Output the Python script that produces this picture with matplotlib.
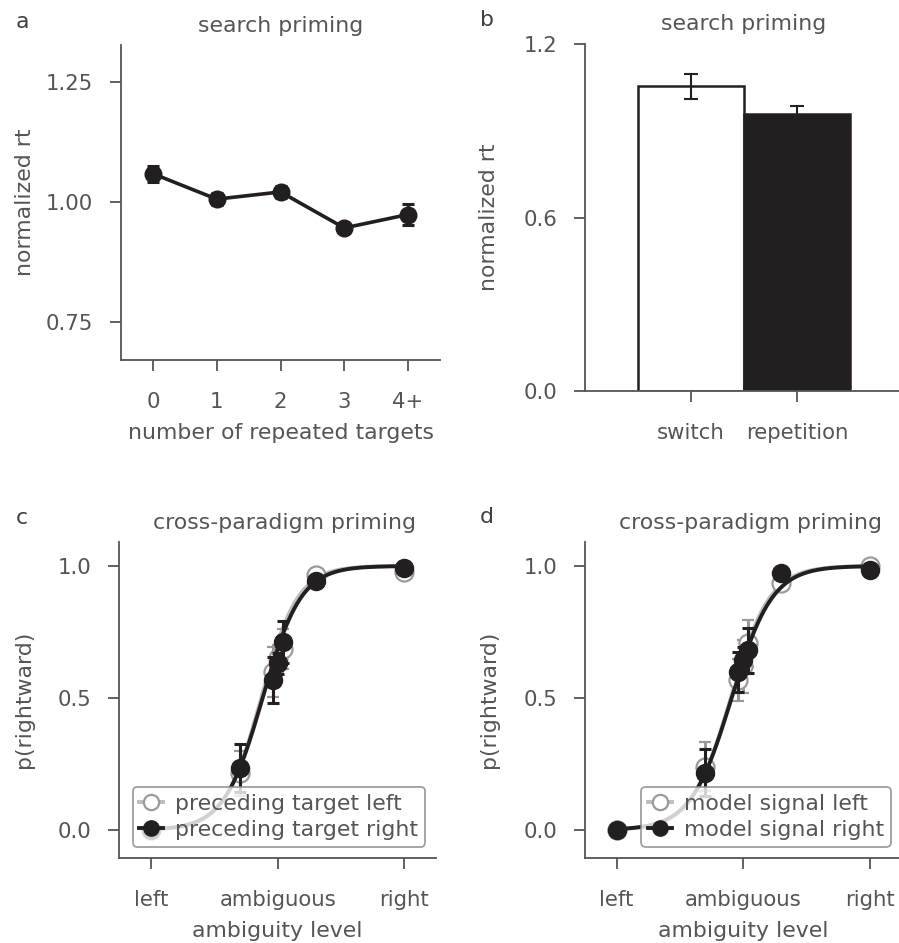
import numpy as np
import matplotlib
matplotlib.use("Agg")
import matplotlib.pyplot as plt
from matplotlib.lines import Line2D

# ---------------- data ----------------
# panel a
a_categories = ["0", "1", "2", "3", "4+"]
a_values = [1.059, 1.006, 1.021, 0.946, 0.974]
a_errors = [0.017, 0.013, 0.012, 0.005, 0.022]

# panel b
b_categories = ["switch", "repetition"]
b_values = [1.053, 0.956]
b_errors = [0.044, 0.030]

# panels c/d : ambiguity levels
amb_levels = [-1.0, -0.3, -0.04, 0.0, 0.04, 0.3, 1.0]
amb_ticklabels = ["left", "ambiguous", "right"]

c_left_vals = [0.0, 0.215, 0.600, 0.650, 0.685, 0.966, 0.978]
c_left_errs = [0.005, 0.085, 0.095, 0.050, 0.075, 0.010, 0.005]
c_right_vals = [0.0, 0.234, 0.568, 0.631, 0.713, 0.945, 0.993]
c_right_errs = [0.005, 0.090, 0.086, 0.040, 0.080, 0.015, 0.005]

d_left_vals = [0.0, 0.240, 0.568, 0.620, 0.707, 0.934, 1.000]
d_left_errs = [0.005, 0.094, 0.078, 0.100, 0.088, 0.010, 0.005]
d_right_vals = [0.0, 0.217, 0.600, 0.644, 0.680, 0.975, 0.985]
d_right_errs = [0.005, 0.090, 0.076, 0.050, 0.084, 0.010, 0.005]

# logistic fit parameters (mu, scale)
c_left_fit = (-0.130, 0.145)
c_right_fit = (-0.119, 0.152)
d_left_fit = (-0.100, 0.155)
d_right_fit = (-0.093, 0.161)

# ---------------- style ----------------
TXT = "#555555"
SPN = "#555555"
BLK = "#231f20"
GRY_LINE = "#bdbdbd"
GRY_MK = "#9a9a9a"
FS = 15.8
TFS = 15.3

plt.rcParams.update({
    "font.family": "DejaVu Sans",
    "font.size": FS,
    "text.color": TXT,
    "axes.labelcolor": TXT,
    "xtick.color": SPN,
    "ytick.color": SPN,
    "xtick.labelcolor": TXT,
    "ytick.labelcolor": TXT,
    "axes.edgecolor": SPN,
})

W, H = 899, 943
fig = plt.figure(figsize=(W / 100, H / 100), dpi=100)


def add_ax(l, r, t, b):
    return fig.add_axes([l / W, 1 - b / H, (r - l) / W, (b - t) / H])


def style(ax):
    for s in ["top", "right"]:
        ax.spines[s].set_visible(False)
    for s in ["left", "bottom"]:
        ax.spines[s].set_linewidth(1.3)
        ax.spines[s].set_color(SPN)
    ax.tick_params(axis="both", length=8, width=1.3, labelsize=TFS)
    ax.tick_params(axis="x", pad=15)
    ax.tick_params(axis="y", pad=12)


# ---------------- panel a ----------------
axa = add_ax(121, 440, 45, 360)
style(axa)
xa = np.arange(len(a_categories))
axa.errorbar(xa, a_values, yerr=a_errors, fmt="-o", color=BLK, lw=2.6,
             ms=12, elinewidth=2.2, capsize=4.5, capthick=2.2, zorder=3)
axa.set_xlim(-0.5, 4.5)
axa.set_ylim(0.671, 1.327)
axa.set_xticks(xa)
axa.set_xticklabels(a_categories)
axa.set_yticks([0.75, 1.00, 1.25])
axa.set_yticklabels(["0.75", "1.00", "1.25"])
axa.set_xlabel("number of repeated targets", labelpad=8)
axa.set_ylabel("normalized rt")
axa.yaxis.set_label_coords(-0.27, 0.5)
axa.set_title("search priming", fontsize=FS, color=TXT, pad=9)

# ---------------- panel b ----------------
axb = add_ax(585, 903, 43.7, 391.3)
style(axb)
xb = np.arange(len(b_categories))
axb.bar(xb[0], b_values[0], width=1.0, color="white", edgecolor=BLK, lw=1.8, zorder=2)
axb.bar(xb[1], b_values[1], width=1.0, color=BLK, edgecolor=BLK, lw=1.8, zorder=2)
axb.errorbar(xb, b_values, yerr=b_errors, fmt="none", ecolor=BLK, elinewidth=1.5,
             capsize=5, capthick=1.5, zorder=3)
axb.set_xlim(-1.0, 2.0)
axb.set_ylim(0, 1.2)
axb.set_xticks(xb)
axb.set_xticklabels(b_categories)
axb.set_yticks([0.0, 0.6, 1.2])
axb.set_yticklabels(["0.0", "0.6", "1.2"])
axb.set_ylabel("normalized rt")
axb.yaxis.set_label_coords(-0.27, 0.5)
axb.set_title("search priming", fontsize=FS, color=TXT, pad=10)


# ---------------- panels c/d ----------------
def logistic(x, p):
    mu, s = p
    return 1.0 / (1.0 + np.exp(-(x - mu) / s))


def psych_panel(ax, lv, le, lfit, rv, re, rfit, labels):
    style(ax)
    xs = np.linspace(min(amb_levels), max(amb_levels), 300)
    ax.plot(xs, logistic(xs, lfit), color=GRY_LINE, lw=2.8, zorder=2)
    ax.errorbar(amb_levels, lv, yerr=le, fmt="o", ms=13, mfc="white", mec=GRY_MK,
                mew=1.6, ecolor=GRY_MK, elinewidth=2.2, capsize=4.5, capthick=2.2, zorder=3)
    ax.plot(xs, logistic(xs, rfit), color=BLK, lw=2.8, zorder=4)
    ax.errorbar(amb_levels, rv, yerr=re, fmt="o", ms=13, mfc=BLK, mec=BLK,
                ecolor=BLK, elinewidth=2.2, capsize=4.5, capthick=2.2, zorder=5)
    ax.set_xlim(-1.25, 1.25)
    ax.set_ylim(-0.105, 1.092)
    ax.set_xticks([-1, 0, 1])
    ax.set_xticklabels(amb_ticklabels)
    ax.set_yticks([0.0, 0.5, 1.0])
    ax.set_yticklabels(["0.0", "0.5", "1.0"])
    ax.set_xlabel("ambiguity level", labelpad=8)
    ax.set_ylabel("p(rightward)")
    ax.yaxis.set_label_coords(-0.27, 0.5)
    ax.set_title("cross-paradigm priming", fontsize=FS, color=TXT, pad=9, x=0.522)
    handles = [
        Line2D([], [], color=GRY_LINE, lw=2.8, marker="o", ms=11, mfc="white",
               mec=GRY_MK, mew=1.6),
        Line2D([], [], color=BLK, lw=2.8, marker="o", ms=11, mfc=BLK, mec=BLK),
    ]
    leg = ax.legend(handles, labels, loc="lower right", fontsize=FS,
                    handlelength=1.1, handletextpad=0.55, borderpad=0.3,
                    labelspacing=0.3, framealpha=0.8, edgecolor="#888888",
                    borderaxespad=0.5)
    leg.get_frame().set_linewidth(1.3)
    leg.set_zorder(10)


axc = add_ax(119.3, 436, 541.7, 857.7)
psych_panel(axc, c_left_vals, c_left_errs, c_left_fit, c_right_vals, c_right_errs,
            c_right_fit, ["preceding target left", "preceding target right"])

axd = add_ax(585, 901.7, 541.7, 857.7)
psych_panel(axd, d_left_vals, d_left_errs, d_left_fit, d_right_vals, d_right_errs,
            d_right_fit, ["model signal left", "model signal right"])

# panel letters
for lbl, x, y in [("a", 22, 22), ("b", 487, 20), ("c", 22, 518), ("d", 487, 517)]:
    fig.text(x / W, 1 - y / H, lbl, fontsize=FS, color="#404040", ha="center", va="center")

fig.savefig("out.png", dpi=100, facecolor="white")
